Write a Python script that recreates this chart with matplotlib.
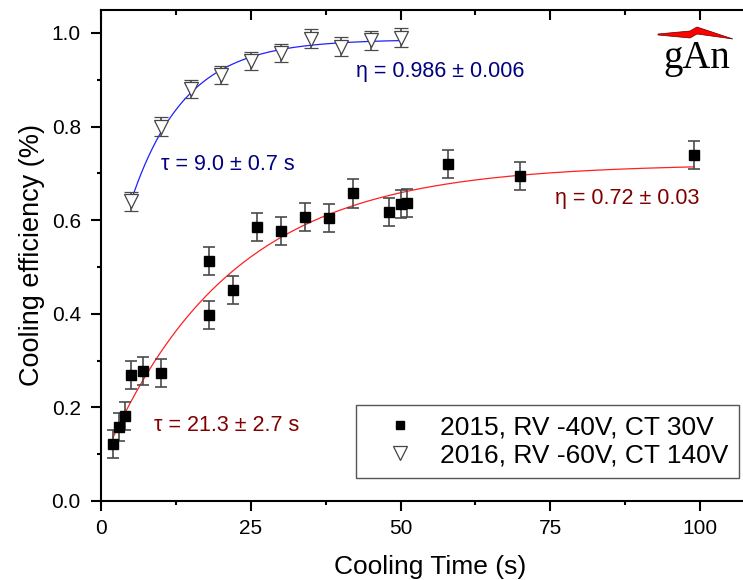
import numpy as np
import matplotlib
matplotlib.use("Agg")
import matplotlib.pyplot as plt
from matplotlib.lines import Line2D
from matplotlib.patches import Polygon
from matplotlib.ticker import MultipleLocator

plt.rcParams['font.family'] = ['Liberation Sans', 'DejaVu Sans']

# 2015, RV -40V, CT 30V
t_2015 = [2, 3, 4, 5, 7, 10, 18, 18, 22, 26, 30, 34, 38, 42, 48, 50, 51, 58, 70, 99]
eff_2015 = [0.122, 0.159, 0.182, 0.269, 0.278, 0.273, 0.513, 0.398, 0.450, 0.585,
            0.577, 0.606, 0.605, 0.657, 0.617, 0.635, 0.637, 0.720, 0.695, 0.740]
err_2015 = [0.03] * len(t_2015)

# 2016, RV -60V, CT 140V
t_2016 = [5, 10, 15, 20, 25, 30, 35, 40, 45, 50]
eff_2016 = [0.640, 0.800, 0.880, 0.910, 0.940, 0.957, 0.988, 0.971, 0.984, 0.990]
err_2016 = [0.02] * len(t_2016)

# fit parameters: y = eta - amp * exp(-t / tau)
eta_2015, tau_2015, amp_2015 = 0.72, 21.3, 0.642
eta_2016, tau_2016, amp_2016 = 0.986, 9.0, 0.603

labels = ['2015, RV -40V, CT 30V', '2016, RV -60V, CT 140V']

fig = plt.figure(figsize=(7.43, 5.80), dpi=100)
W, H = 743, 580
ax = fig.add_axes([101 / W, (H - 501) / H, (760 - 101) / W, (501 - 10) / H])

# fit curves
tt = np.linspace(min(t_2015), max(t_2015), 300)
ax.plot(tt, eta_2015 - amp_2015 * np.exp(-tt / tau_2015), color='#ff2020', lw=0.9, zorder=2)
tt = np.linspace(min(t_2016), max(t_2016), 300)
ax.plot(tt, eta_2016 - amp_2016 * np.exp(-tt / tau_2016), color='#2020ff', lw=0.9, zorder=2)

# data
ax.errorbar(t_2015, eff_2015, yerr=err_2015, fmt='s', ms=6.5, mfc='black', mec='black',
            ecolor='#4a4a4a', elinewidth=1.2, capsize=4, capthick=1.2, zorder=3)
ax.errorbar(t_2016, eff_2016, yerr=err_2016, fmt='v', ms=10, mfc='white', mec='#444444',
            mew=0.9, ecolor='#4a4a4a', elinewidth=1.2, capsize=5, capthick=1.2, zorder=3)

# annotations
ax.text(42.5, 0.917, 'η = 0.986 ± 0.006', color='#000080', fontsize=15.5, ha='left', va='center')
ax.text(10, 0.718, 'τ = 9.0 ± 0.7 s', color='#000080', fontsize=15.5, ha='left', va='center')
ax.text(75.7, 0.647, 'η = 0.72 ± 0.03', color='#800000', fontsize=15.5, ha='left', va='center')
ax.text(8.8, 0.161, 'τ = 21.3 ± 2.7 s', color='#800000', fontsize=15.5, ha='left', va='center')

ax.set_xlim(0, 110)
ax.set_ylim(0, 1.049)
ax.xaxis.set_major_locator(MultipleLocator(25))
ax.xaxis.set_minor_locator(MultipleLocator(12.5))
ax.yaxis.set_major_locator(MultipleLocator(0.2))
ax.yaxis.set_minor_locator(MultipleLocator(0.1))
ax.yaxis.set_major_formatter(plt.FuncFormatter(lambda v, p: f'{v:.1f}'))

ax.spines['right'].set_visible(False)
for s in ['left', 'bottom', 'top']:
    ax.spines[s].set_linewidth(1.5)
ax.tick_params(which='both', direction='out', top=False, width=1.5, labelsize=15, pad=6)
ax.tick_params(axis='y', pad=7.5)
ax.tick_params(which='major', length=7)
ax.tick_params(which='minor', length=3.2)

# inward ticks on top spine
ax_top = ax.secondary_xaxis('top')
ax_top.xaxis.set_major_locator(MultipleLocator(25))
ax_top.xaxis.set_minor_locator(MultipleLocator(12.5))
ax_top.tick_params(which='both', direction='in', width=1.5, labeltop=False)
ax_top.tick_params(which='major', length=7)
ax_top.tick_params(which='minor', length=3.5)
ax_top.spines['top'].set_visible(False)

ax.set_xlabel('Cooling Time (s)', fontsize=19, labelpad=12)
ax.set_ylabel('Cooling efficiency (%)', fontsize=19.5, labelpad=5)

handles = [
    Line2D([], [], ls='none', marker='s', ms=6, mfc='black', mec='black'),
    Line2D([], [], ls='none', marker='v', ms=10, mfc='white', mec='#444444', mew=0.9),
]
leg = ax.legend(handles, labels, loc='upper right', bbox_to_anchor=((739 - 101) / 659, (501 - 405) / 491),
                borderaxespad=0, fontsize=19, fancybox=False, framealpha=1, edgecolor='#555555',
                labelspacing=0.15, handletextpad=0.2, borderpad=0.4, handlelength=2.6)
leg.get_frame().set_linewidth(1.0)

# gAn logo
bolt = [(658, 34), (690, 31), (697, 27), (733, 39), (697, 34), (690, 38), (658, 35)]
fig.patches.append(Polygon([(x / W, (H - y) / H) for x, y in bolt], closed=True,
                           transform=fig.transFigure, fc='#ff0000', ec='#600000', lw=0.5))
fig.text(697 / W, (H - 68) / H, 'gAn', family='Liberation Serif', fontsize=28,
         ha='center', va='baseline', color='black')

fig.savefig('out.png', dpi=100)
